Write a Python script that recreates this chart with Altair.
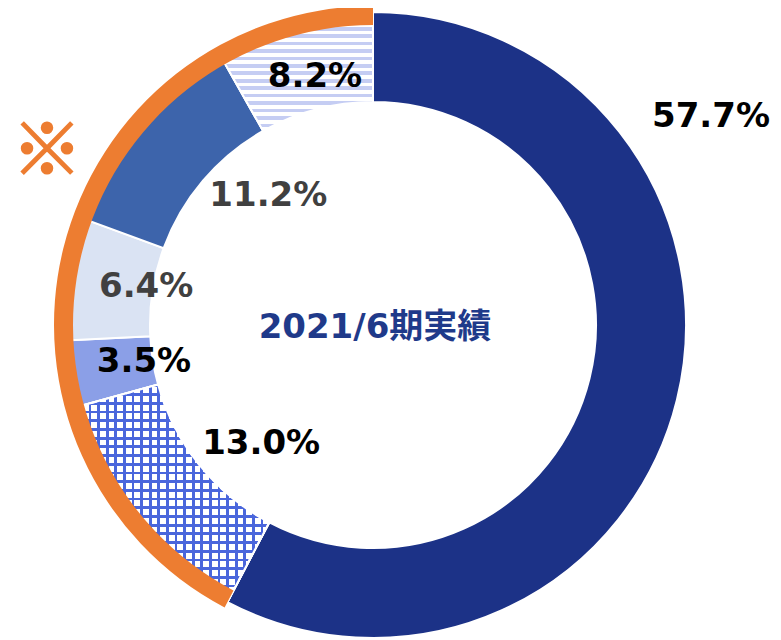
import math
import altair as alt
import pandas as pd

# ---- data ----
names = ["区分A", "区分B", "区分C", "区分D", "区分E", "区分F"]
values = [57.7, 13.0, 3.5, 6.4, 11.2, 8.2]
center_title = "2021/6期実績"
note_mark = "※"

# ---- styles / layout ----
solid_colors = ["#1c3287", "#ffffff", "#8b9fe7", "#dae3f3", "#3d64ab", "#ffffff"]
label_colors = ["#000000", "#000000", "#000000", "#404040", "#404040", "#000000"]
label_radius = [397, 163, 232, 230, 166, 255]
label_nudge_deg = [-45.5, -7.8, 0.0, 0.9, 10.6, 1.6]
CX, CY = 365, 317
R_OUT, R_IN = 313, 223
ORANGE = "#ed7d31"
FONT = "DejaVu Sans, Noto Sans CJK JP"

df = pd.DataFrame({
    "idx": list(range(len(names))),
    "name": names,
    "value": values,
    "lcol": label_colors,
    "lr": label_radius,
    "nudge": label_nudge_deg,
})


def stripes(n, frac, line, bg, vertical_lines):
    stops = []
    for i in range(n):
        a = i / n
        b = (i + frac) / n
        c = (i + 1) / n
        stops += [
            alt.GradientStop(offset=round(a, 5), color=line),
            alt.GradientStop(offset=round(b, 5), color=line),
            alt.GradientStop(offset=round(b, 5), color=bg),
            alt.GradientStop(offset=round(c, 5), color=bg),
        ]
    if vertical_lines:
        return alt.LinearGradient(gradient="linear", stops=stops, x1=0, x2=1, y1=0, y2=0)
    return alt.LinearGradient(gradient="linear", stops=stops, x1=0, x2=0, y1=0, y2=1)


grid_h = stripes(25, 0.32, "#4a66dc", "#ffffff", False)
grid_v = stripes(23, 0.32, "#4a66dc", "rgba(255,255,255,0)", True)
hstripe = stripes(16, 0.5, "#c5cdf3", "#ffffff", False)

theta_scale = alt.Scale(domain=[0, 100], range=[0, 2 * math.pi])

base = alt.Chart(df).transform_window(
    end="sum(value)", sort=[alt.SortField("idx")], frame=[None, 0]
).transform_calculate(start="datum.end - datum.value")

pos = dict(x=alt.value(CX), y=alt.value(CY))

solid = base.mark_arc(outerRadius=R_OUT, innerRadius=R_IN, stroke="white", strokeWidth=2).encode(
    theta=alt.Theta("start:Q", scale=theta_scale),
    theta2="end:Q",
    color=alt.Color("name:N", scale=alt.Scale(domain=names, range=solid_colors), legend=None),
    **pos,
)


def pattern_layer(i, fill):
    return base.transform_filter(f"datum.idx == {i}").mark_arc(
        outerRadius=R_OUT, innerRadius=R_IN, fill=fill, stroke="white", strokeWidth=2
    ).encode(theta=alt.Theta("start:Q", scale=theta_scale), theta2="end:Q", **pos)


grid1 = pattern_layer(1, grid_h)
grid2 = pattern_layer(1, grid_v)
stripe = pattern_layer(5, hstripe)

orange = base.transform_filter("datum.idx >= 1").transform_aggregate(
    s="min(start)", e="max(end)"
).mark_arc(outerRadius=319, innerRadius=300, color=ORANGE).encode(
    theta=alt.Theta("s:Q", scale=theta_scale), theta2="e:Q", **pos
)

labels = base.transform_calculate(
    label="format(datum.value, '.1f') + '%'",
    ang="(datum.start + datum.end) / 2 / 100 * 2 * PI + datum.nudge * PI / 180",
).transform_calculate(
    lx=f"{CX} + datum.lr * sin(datum.ang)",
    ly=f"{CY} - datum.lr * cos(datum.ang)",
).mark_text(font=FONT, fontSize=34, fontWeight="bold", baseline="middle", align="center").encode(
    x=alt.X("lx:Q", scale=None),
    y=alt.Y("ly:Q", scale=None),
    text="label:N",
    color=alt.Color("lcol:N", scale=None),
)

title = alt.Chart(pd.DataFrame({"t": [center_title]})).mark_text(
    font=FONT, fontSize=34, fontWeight="bold", color="#1f3a8a", baseline="middle", align="center"
).encode(text="t:N", x=alt.value(CX + 2), y=alt.value(CY + 3))

note = alt.Chart(pd.DataFrame({"t": [note_mark]})).mark_text(
    font="Noto Sans CJK JP", fontSize=70, fontWeight="bold", color=ORANGE,
    stroke=ORANGE, strokeWidth=2, baseline="middle", align="center"
).encode(text="t:N", x=alt.value(39), y=alt.value(146))

chart = alt.layer(solid, grid1, grid2, stripe, orange, labels, title, note).properties(
    width=765, height=632, autosize="none", padding=0
).configure_view(stroke=None)

chart.save("out.html", embed_options={"renderer": "svg", "actions": False})
